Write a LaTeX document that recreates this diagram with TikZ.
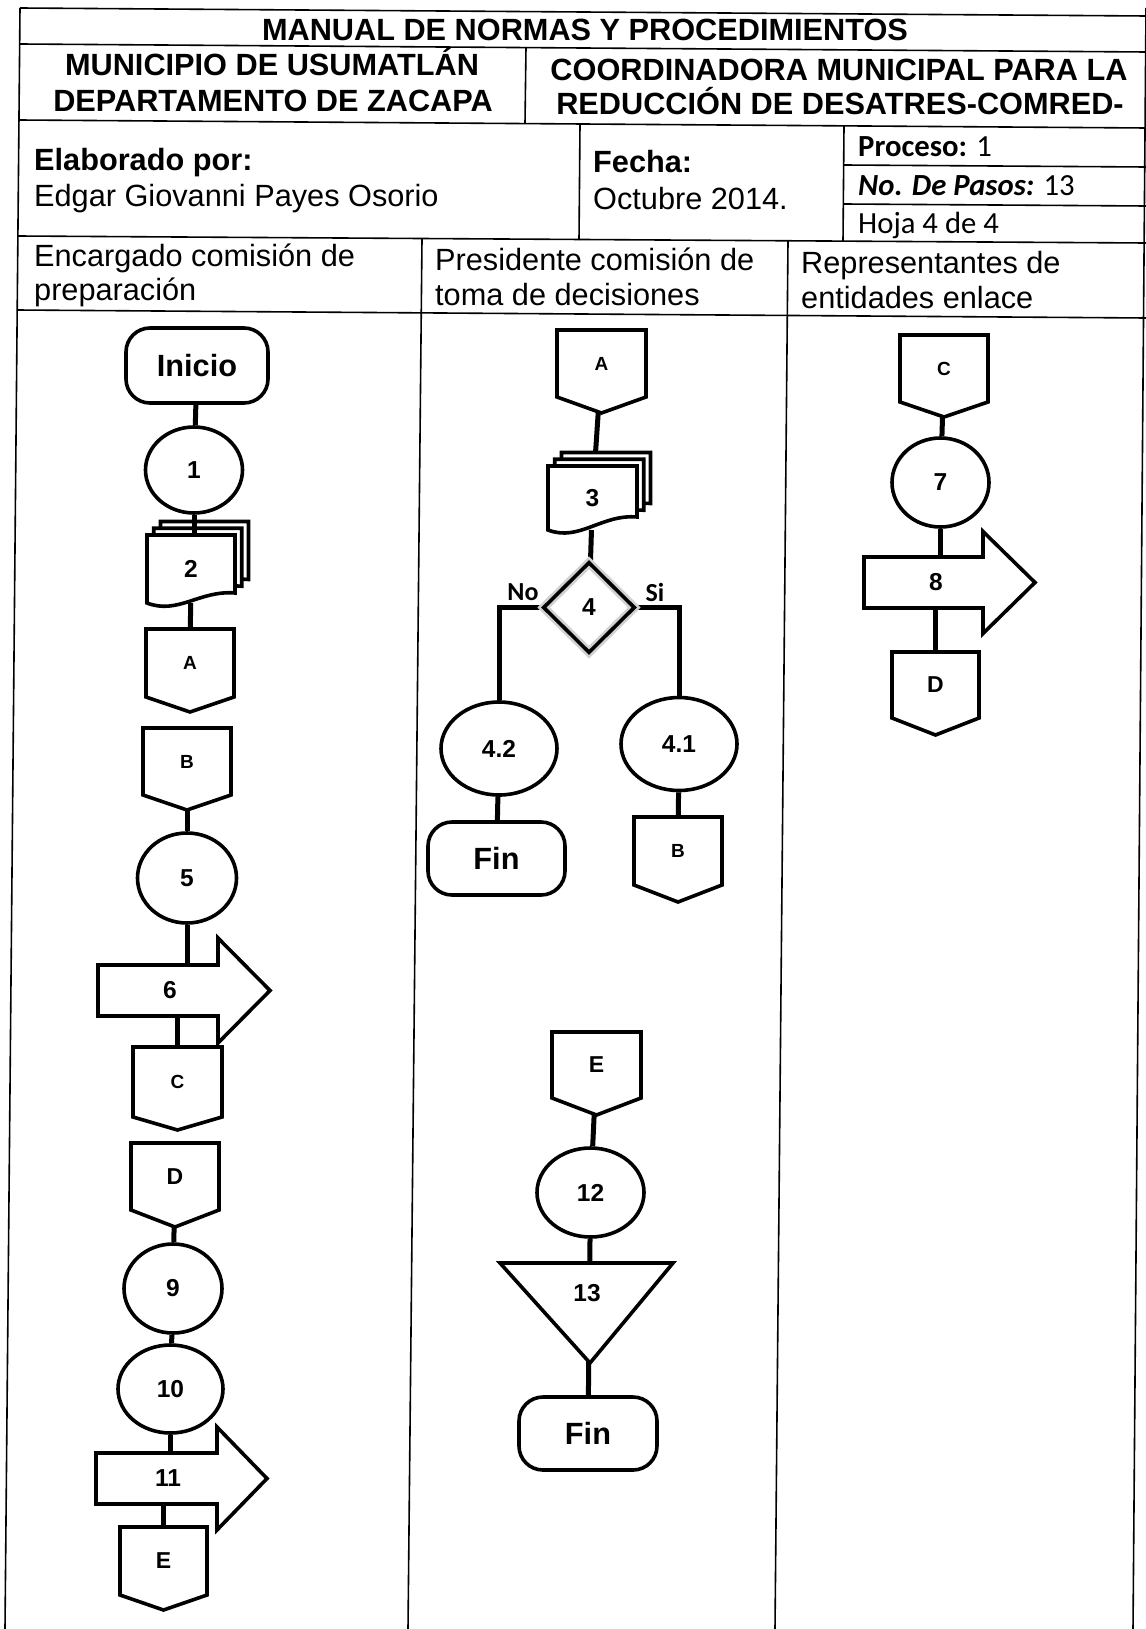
\documentclass[tikz,border=0pt]{standalone}
\usepackage{fontspec}
\setmainfont{Liberation Sans}
\newfontfamily\calfont{Carlito}
\usetikzlibrary{shapes.geometric,calc}
\pgfdeclarelayer{bg}
\pgfsetlayers{bg,main}
\newcommand\hdfont{\fontsize{30.7}{36}\selectfont}
\tikzset{
  tl/.style={line width=1.6pt},
  shp/.style={draw=black, fill=white, line width=3.6pt, line join=miter},
  conn/.style={line width=5pt},
  big/.style={font=\fontsize{30.7}{36}\selectfont\bfseries},
  num/.style={font=\fontsize{24.5}{28}\selectfont\bfseries},
  sml/.style={font=\fontsize{19}{22}\selectfont\bfseries},
  mid/.style={font=\fontsize{23}{26}\selectfont\bfseries},
  yn/.style={font=\calfont\fontsize{26}{30}\selectfont\bfseries, inner sep=0pt},
  hd/.style={font=\hdfont, anchor=base west, inner sep=0pt},
  hdb/.style={font=\hdfont\bfseries, anchor=base, inner sep=0pt},
  ell/.style={ellipse, draw=black, fill=white, line width=3.6pt, inner sep=0pt, num},
  term/.style={rectangle, rounded corners=24pt, draw=black, fill=white, line width=3.6pt, inner sep=0pt, big}
}
% off-page connector: [style] name, cx, top, width, side height, point depth, label
\newcommand\offpg[8][sml]{%
  \path[shp] ({#3-#5/2},#4) -- ({#3+#5/2},#4) -- ({#3+#5/2},{#4+#6}) -- (#3,{#4+#6+#7}) -- ({#3-#5/2},{#4+#6}) -- cycle;
  \node[#1, inner sep=0pt, outer sep=0pt, minimum width=#5, minimum height=#6] (#2) at (#3,{#4+#6/2}) {#8};
}
% multi-document: name, x0, top, width, left height, right height, label
\newcommand\docst[7]{%
  \foreach \sh in {13.5,6.75,0}{%
    \path[shp] ({#2+\sh},{#3-\sh}) -- ({#2+\sh+#4},{#3-\sh}) -- ({#2+\sh+#4},{#3-\sh+#6})
      .. controls ({#2+\sh+0.6*#4},{#3-\sh+#6-3}) and ({#2+\sh+0.35*#4},{#3-\sh+#5+12}) .. ({#2+\sh},{#3-\sh+#5}) -- cycle;
  }
  \node[num, inner sep=0pt, outer sep=0pt, minimum width=#4, minimum height=#5] (#1) at ({#2+#4/2},{#3+#5/2}) {#7};
}
% block arrow: name, x0, ytop, xbase, ybot, head extra, xtip, label x, label
\newcommand\arrw[9]{%
  \path[shp] (#2,#3) -- (#4,#3) -- (#4,{#3-#6}) -- (#7,{(#3+#5)/2}) -- (#4,{#5+#6}) -- (#4,#5) -- (#2,#5) -- cycle;
  \node[inner sep=0pt, outer sep=0pt, minimum width={#4-#2}, minimum height={#5-#3}] (#1) at ({(#2+#4)/2},{(#3+#5)/2}) {};
  \node[num, inner sep=0pt] (#1l) at (#8,{(#3+#5)/2}) {#9};
}
\begin{document}
\begin{tikzpicture}[x=1pt,y=-1pt]
\useasboundingbox (0,0) rectangle (1145,1629);

% ---------- table ----------
\draw[tl] (20,8) -- (1146,16);
\draw[tl] (20,8) -- (5,1629);
\draw[tl] (1146,8) -- (1133,1629);
\draw[tl] (20,44) -- (1146,52);
\draw[tl] (526,47) -- (525,123);
\draw[tl] (19,120) -- (1146,128);
\draw[tl] (580,124) -- (579,240);
\draw[tl] (844,126) -- (843,241);
\draw[tl] (844,165) -- (1146,167);
\draw[tl] (844,204) -- (1146,206);
\draw[tl] (18,236) -- (1146,243);
\draw[tl] (422,239) -- (408,1629);
\draw[tl] (788,241) -- (775,1629);
\draw[tl] (17,310) -- (1146,318);

% ---------- header texts ----------
\node[hdb] (tit) at (585,41) {MANUAL DE NORMAS Y PROCEDIMIENTOS};
\node[hdb] (mun) at (272,76) {MUNICIPIO DE USUMATLÁN};
\node[hdb] (dep) at (273,112) {DEPARTAMENTO DE ZACAPA};
\node[hdb] (coo) at (839,81) {COORDINADORA MUNICIPAL PARA LA};
\node[hdb] (red) at (840,115) {REDUCCIÓN DE DESATRES-COMRED-};
\node[hd] (ela) at (34,171) {\bfseries Elaborado por:};
\node[hd] (edg) at (34,207) {Edgar Giovanni Payes Osorio};
\node[hd] (fec) at (593,173) {\bfseries Fecha:};
\node[hd] (oct) at (593,210) {Octubre 2014.};
\node[hd] (pro) at (858,157) {\calfont\textbf{Proceso:} 1};
\node[hd] (pas) at (858,196) {\calfont\textbf{\itshape No. De Pasos:} 13};
\node[hd] (hoj) at (858,234) {\calfont Hoja 4 de 4};
\node[hd] (l1a) at (34,266) {Encargado comisión de};
\node[hd] (l1b) at (34,300) {preparación};
\node[hd] (l2a) at (435,270) {Presidente comisión de};
\node[hd] (l2b) at (435,305) {toma de decisiones};
\node[hd] (l3a) at (801,273) {Representantes de};
\node[hd] (l3b) at (801,308) {entidades enlace};

% ---------- lane 1 ----------
\node[term, minimum width=142, minimum height=75] (ini) at (197,365.5) {Inicio};
\node[ell, minimum width=97, minimum height=86] (c1) at (194,470) {1};
\docst{d2}{147}{535}{88}{68}{58}{2}
\draw[conn] (c1.south) -- (c1.south |- d2.north);
\offpg{A1}{190}{629}{88}{68}{15}{A}
\offpg{B1}{187}{728}{88}{67}{15}{B}
\node[ell, minimum width=99, minimum height=90] (c5) at (187,878) {5};
\arrw{a6}{98}{965}{218}{1016}{27}{270}{170}{6}
\offpg{C1}{177.5}{1047}{89}{70}{13}{C}
\offpg[mid]{D1}{175}{1143}{88}{67}{17}{D}
\node[ell, minimum width=98, minimum height=89] (c9) at (173,1288.5) {9};
\node[ell, minimum width=105, minimum height=88] (c10) at (170.5,1389) {10};
\arrw{a11}{96}{1453}{217}{1504}{26}{267}{168}{11}
\offpg[mid]{E1}{163.5}{1527}{87}{68}{15}{E}

% ---------- lane 2 ----------
\offpg{A2}{601.5}{330}{89}{67}{16}{A}
\docst{d3}{548}{466}{89}{64}{51}{3}
\node[diamond, draw=black, line width=3.6pt, inner sep=0pt, minimum width=92, minimum height=91, num,
      preaction={draw=black!18, line width=9pt}] (d4) at (589,607.5) {4};
\node[yn] (no) at (523,592) {No};
\node[yn] (si) at (655,592) {Si};
\node[ell, minimum width=116, minimum height=93] (e42) at (499,748.5) {4.2};
\node[ell, minimum width=116, minimum height=93] (e41) at (679,744) {4.1};
\node[term, minimum width=137, minimum height=73] (fin1) at (496.5,858.5) {Fin};
\offpg{B2}{678}{817}{88}{68}{17}{B}
\offpg[mid]{E2}{596.5}{1032}{89}{66}{17}{E}
\node[ell, minimum width=107, minimum height=89] (c12) at (590.5,1192.5) {12};
\path[shp] (500,1263) -- (673,1263) -- (590,1363) -- cycle;
\node[inner sep=0pt, outer sep=0pt, minimum width=173, minimum height=100] (t13) at (586.5,1313) {};
\node[num, inner sep=0pt] (t13l) at (587,1293) {13};
\node[term, minimum width=138, minimum height=73] (fin2) at (588,1433.5) {Fin};

% ---------- lane 3 ----------
\offpg{C3}{944}{335}{88}{67}{15}{C}
\node[ell, minimum width=97, minimum height=89] (c7) at (940.5,482.5) {7};
\arrw{a8}{864}{557}{983}{608}{25.5}{1035}{936}{8}
\offpg[mid]{D3}{935.5}{652}{87}{66}{17}{D}

% ---------- connectors (behind the filled shapes) ----------
\begin{pgfonlayer}{bg}
\fill[white] (0,0) rectangle (1145,1629);
\draw[conn] (ini) -- (c1);
\draw[conn] (d2) -- (A1);
\draw[conn] (B1) -- (c5);
\draw[conn] (c5) -- (c5 |- a6);
\draw[conn] (C1 |- a6) -- (C1);
\draw[conn] (D1) -- (c9);
\draw[conn] (c9) -- (c10);
\draw[conn] (c10) -- (c10 |- a11);
\draw[conn] (E1 |- a11) -- (E1);
\draw[conn] (A2) -- (d3);
\draw[conn] (d3) -- (d4);
\draw[conn] (d4.west) -| (e42.north);
\draw[conn] (d4.east) -| (e41.north);
\draw[conn] (e42) -- (fin1);
\draw[conn] (e41) -- (B2);
\draw[conn] (E2) -- (c12);
\draw[conn] (c12) -- (fin2);
\draw[conn] (C3) -- (c7);
\draw[conn] (c7) -- (c7 |- a8);
\draw[conn] (D3 |- a8) -- (D3);
\end{pgfonlayer}
\end{tikzpicture}
\end{document}
